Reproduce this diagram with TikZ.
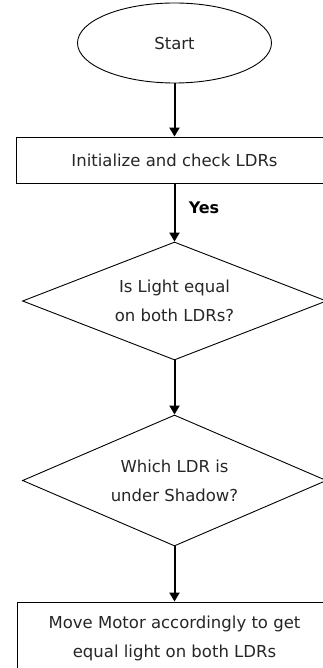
\documentclass[tikz,border=0pt]{standalone}
\usepackage{fontspec}
\setmainfont{DejaVu Sans}
\usetikzlibrary{shapes.geometric,arrows.meta}
\begin{document}
\begin{tikzpicture}[x=1pt,y=-1pt,
  shapeline/.style={draw=black,line width=0.9pt},
  txt/.style={font=\fontsize{16.5}{29}\selectfont,text=black!85,align=center},
  flowarrow/.style={draw=black,line width=2pt,-{Triangle[width=10pt,length=9pt]}}]
\useasboundingbox (0,0) rectangle (323,668);
\fill[white] (0,0) rectangle (323,668);
\begin{scope}
\clip (0,0) rectangle (323,668);
\node[shapeline,ellipse,minimum width=194pt,minimum height=80pt,inner sep=0pt] (start) at (174.5,43) {};
\node[txt] (starttext) at (start.center) {Start};
\node[shapeline,rectangle,minimum width=316pt,minimum height=46pt,inner sep=0pt] (init) at (174.5,160) {};
\node[txt] (inittext) at (init.center) {Initialize and check LDRs};
\node[shapeline,diamond,aspect=2.5,minimum width=304pt,minimum height=118pt,inner sep=0pt] (equal) at (174.5,301) {};
\node[txt] (equaltext) at (equal.center) {Is Light equal\\on both LDRs?};
\node[shapeline,diamond,aspect=2.5,minimum width=304pt,minimum height=131pt,inner sep=0pt] (shadow) at (174.5,480.5) {};
\node[txt] (shadowtext) at (shadow.center) {Which LDR is\\under Shadow?};
\node[shapeline,rectangle,minimum width=314pt,minimum height=72pt,inner sep=0pt] (move) at (174.5,638) {};
\node[txt] (movetext) at (move.center) {Move Motor accordingly to get\\equal light on both LDRs};
\node[font=\fontsize{16}{18}\selectfont\bfseries,text=black] (yes) at (204,208) {Yes};
\draw[flowarrow] (start.south) -- (init.north);
\draw[flowarrow] (init.south) -- (equal.north);
\draw[flowarrow] (equal.south) -- (shadow.north);
\draw[flowarrow] (shadow.south) -- (move.north);
\end{scope}
\end{tikzpicture}
\end{document}
